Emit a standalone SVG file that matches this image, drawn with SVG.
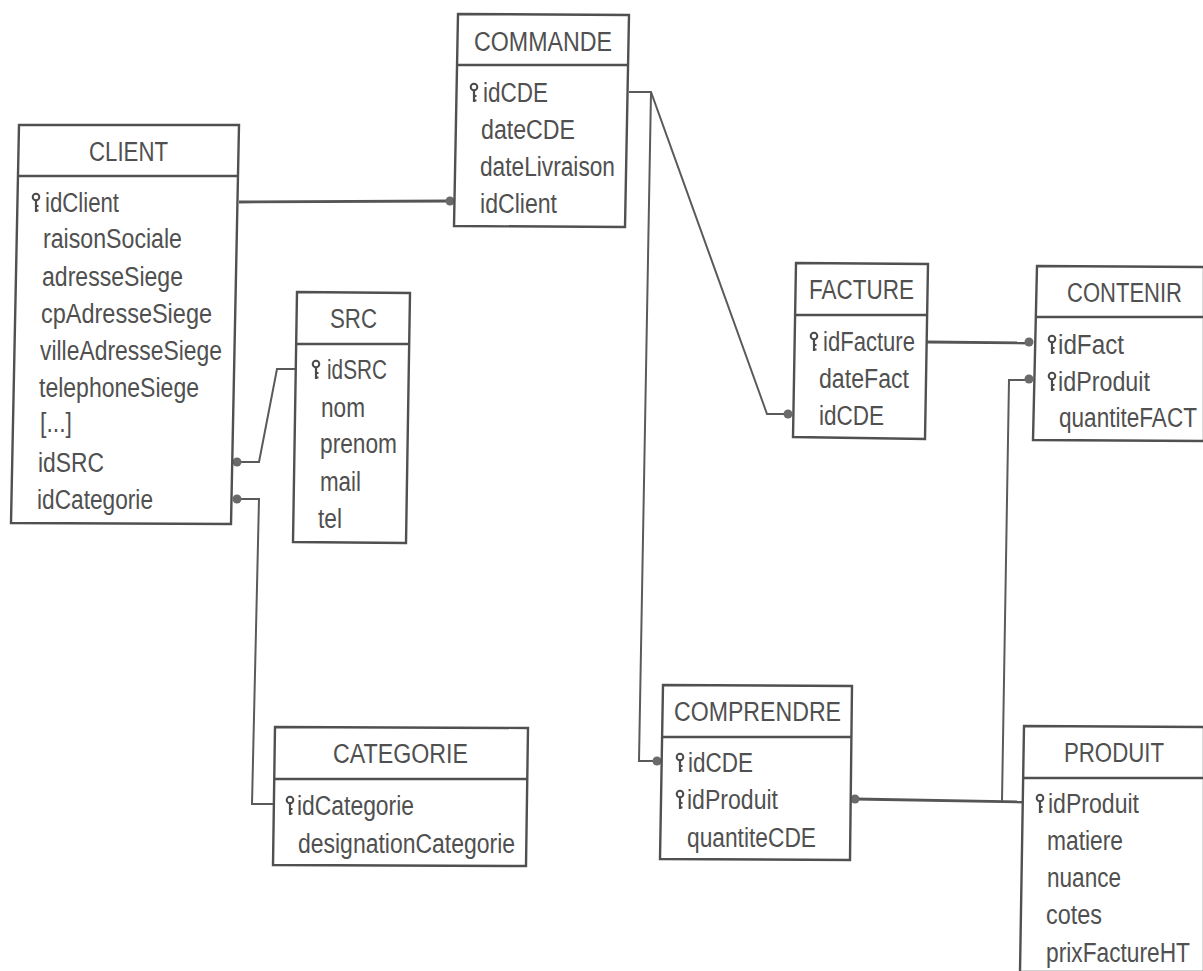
<svg xmlns="http://www.w3.org/2000/svg" width="1203" height="971" viewBox="0 0 1203 971">
<style>
.b{fill:#fff;stroke:#505050;stroke-width:2.4}
.h{fill:none;stroke:#505050;stroke-width:2.4}
.c{fill:none;stroke:#5a5a5a;stroke-width:2}
.t{fill:none;stroke:#555;stroke-width:2.8}
.d{fill:#6a6a6a}
text{font-family:"Liberation Sans",Arial,sans-serif;font-size:27px;fill:#505050}
</style>
<defs>
<g id="key" fill="none" stroke="#4a4a4a"><circle cx="0" cy="-15" r="3.300" stroke-width="2"/><path d="M0-12V0M0-6h2.500M0-1.500h2.500" stroke-width="2.200"/></g>
</defs>
<rect width="1203" height="971" fill="#fff"/>
<g id="connectors">
<path class="t" d="M239 202L450 201"/>
<path class="c" d="M237 462H259L277 369H296"/>
<path class="c" d="M237 499H259L252 804H273"/>
<path class="c" d="M629 92H651L767 414H788"/>
<path class="c" d="M651 92L639 761H657"/>
<path class="t" d="M927 342L1029 343"/>
<path class="t" d="M855 799L1024 802"/>
<path class="c" d="M1002 801L1009 380H1029"/>
<circle class="d" cx="450" cy="201" r="4.500"/>
<circle class="d" cx="237" cy="462" r="4.500"/>
<circle class="d" cx="237" cy="499" r="4.500"/>
<circle class="d" cx="788" cy="414" r="4.500"/>
<circle class="d" cx="657" cy="761" r="4.500"/>
<circle class="d" cx="1029" cy="342" r="4.500"/>
<circle class="d" cx="1029" cy="379" r="4.500"/>
<circle class="d" cx="855" cy="799" r="4.500"/>
</g>
<g id="client">
<path class="b" d="M19 125L239 125L231 524L11 523Z"/>
<path class="h" d="M19 176H238"/>
<text lengthAdjust="spacingAndGlyphs" x="89" y="161" textLength="79">CLIENT</text>
<use href="#key" x="36" y="212"/>
<text lengthAdjust="spacingAndGlyphs" x="45" y="212" textLength="74">idClient</text>
<text lengthAdjust="spacingAndGlyphs" x="43" y="248" textLength="139">raisonSociale</text>
<text lengthAdjust="spacingAndGlyphs" x="42" y="286" textLength="141">adresseSiege</text>
<text lengthAdjust="spacingAndGlyphs" x="41" y="323" textLength="171">cpAdresseSiege</text>
<text lengthAdjust="spacingAndGlyphs" x="40" y="360" textLength="182">villeAdresseSiege</text>
<text lengthAdjust="spacingAndGlyphs" x="39" y="397" textLength="160">telephoneSiege</text>
<text lengthAdjust="spacingAndGlyphs" x="40" y="432" textLength="32">[...]</text>
<text lengthAdjust="spacingAndGlyphs" x="38" y="472" textLength="66">idSRC</text>
<text lengthAdjust="spacingAndGlyphs" x="37" y="509" textLength="116">idCategorie</text>
</g>
<g id="src">
<path class="b" d="M297 292L410 293L406 543L293 542Z"/>
<path class="h" d="M296 344H410"/>
<text lengthAdjust="spacingAndGlyphs" x="330" y="328" textLength="47">SRC</text>
<use href="#key" x="316" y="379"/>
<text lengthAdjust="spacingAndGlyphs" x="327" y="379" textLength="60">idSRC</text>
<text lengthAdjust="spacingAndGlyphs" x="321" y="417" textLength="44">nom</text>
<text lengthAdjust="spacingAndGlyphs" x="320" y="453" textLength="77">prenom</text>
<text lengthAdjust="spacingAndGlyphs" x="320" y="491" textLength="41">mail</text>
<text lengthAdjust="spacingAndGlyphs" x="318" y="528" textLength="24">tel</text>
</g>
<g id="commande">
<path class="b" d="M458 14L629 15L625 227L454 226Z"/>
<path class="h" d="M457 65H628"/>
<text lengthAdjust="spacingAndGlyphs" x="474" y="51" textLength="138">COMMANDE</text>
<use href="#key" x="474" y="102"/>
<text lengthAdjust="spacingAndGlyphs" x="483" y="102" textLength="65">idCDE</text>
<text lengthAdjust="spacingAndGlyphs" x="481" y="139" textLength="94">dateCDE</text>
<text lengthAdjust="spacingAndGlyphs" x="480" y="176" textLength="135">dateLivraison</text>
<text lengthAdjust="spacingAndGlyphs" x="480" y="213" textLength="77">idClient</text>
</g>
<g id="facture">
<path class="b" d="M796 263L928 264L925 439L793 437Z"/>
<path class="h" d="M795 315H927"/>
<text lengthAdjust="spacingAndGlyphs" x="809" y="299" textLength="105">FACTURE</text>
<use href="#key" x="814" y="351"/>
<text lengthAdjust="spacingAndGlyphs" x="823" y="351" textLength="92">idFacture</text>
<text lengthAdjust="spacingAndGlyphs" x="819" y="388" textLength="90">dateFact</text>
<text lengthAdjust="spacingAndGlyphs" x="819" y="425" textLength="65">idCDE</text>
</g>
<g id="contenir">
<path class="b" d="M1037 266L1204 267L1204 441L1033 440Z"/>
<path class="h" d="M1036 317H1204"/>
<text lengthAdjust="spacingAndGlyphs" x="1067" y="302" textLength="115">CONTENIR</text>
<use href="#key" x="1052" y="354"/>
<text lengthAdjust="spacingAndGlyphs" x="1058" y="354" textLength="66">idFact</text>
<use href="#key" x="1052" y="391"/>
<text lengthAdjust="spacingAndGlyphs" x="1058" y="391" textLength="92">idProduit</text>
<text lengthAdjust="spacingAndGlyphs" x="1059" y="427" textLength="138">quantiteFACT</text>
</g>
<g id="categorie">
<path class="b" d="M275 727L528 728L526 866L273 865Z"/>
<path class="h" d="M275 779H527"/>
<text lengthAdjust="spacingAndGlyphs" x="333" y="763" textLength="135">CATEGORIE</text>
<use href="#key" x="290" y="815"/>
<text lengthAdjust="spacingAndGlyphs" x="297" y="815" textLength="117">idCategorie</text>
<text lengthAdjust="spacingAndGlyphs" x="298" y="853" textLength="217">designationCategorie</text>
</g>
<g id="comprendre">
<path class="b" d="M663 685L852 686L850 860L660 859Z"/>
<path class="h" d="M662 737H852"/>
<text lengthAdjust="spacingAndGlyphs" x="674" y="721" textLength="167">COMPRENDRE</text>
<use href="#key" x="680" y="772"/>
<text lengthAdjust="spacingAndGlyphs" x="688" y="772" textLength="65">idCDE</text>
<use href="#key" x="680" y="809"/>
<text lengthAdjust="spacingAndGlyphs" x="687" y="809" textLength="91">idProduit</text>
<text lengthAdjust="spacingAndGlyphs" x="687" y="847" textLength="129">quantiteCDE</text>
</g>
<g id="produit">
<path class="b" d="M1024 726L1204 727V972H1020Z"/>
<path class="h" d="M1023 778H1204"/>
<text lengthAdjust="spacingAndGlyphs" x="1064" y="762" textLength="100">PRODUIT</text>
<use href="#key" x="1040" y="813"/>
<text lengthAdjust="spacingAndGlyphs" x="1048" y="813" textLength="91">idProduit</text>
<text lengthAdjust="spacingAndGlyphs" x="1047" y="850" textLength="76">matiere</text>
<text lengthAdjust="spacingAndGlyphs" x="1047" y="887" textLength="74">nuance</text>
<text lengthAdjust="spacingAndGlyphs" x="1046" y="924" textLength="56">cotes</text>
<text lengthAdjust="spacingAndGlyphs" x="1046" y="962" textLength="144">prixFactureHT</text>
</g>
</svg>
